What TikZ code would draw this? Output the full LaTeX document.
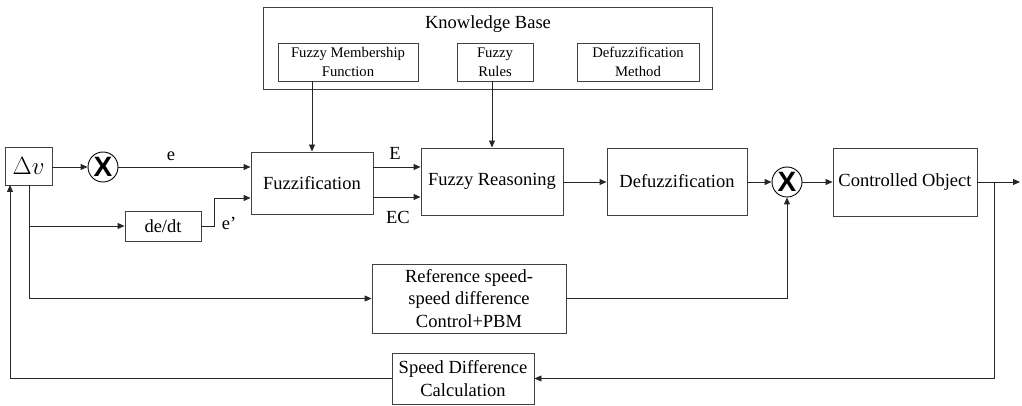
\documentclass[tikz,border=0pt]{standalone}
\usepackage{fontspec}
\setmainfont{Liberation Serif}
\newfontfamily\xfont{Liberation Sans}
\usetikzlibrary{arrows.meta,calc}
\begin{document}
\begin{tikzpicture}[x=1pt,y=-1pt,
  box/.style={draw=black!75,line width=0.9pt,inner sep=0pt,align=center,font=\fontsize{18.5}{22.5}\selectfont},
  sbox/.style={draw=black!75,line width=0.9pt,inner sep=0pt,align=center,font=\fontsize{14.7}{19}\selectfont},
  mult/.style={draw=black,line width=0.9pt,circle,minimum size=30pt,inner sep=0pt,font=\xfont\bfseries\fontsize{28}{28}\selectfont},
  conn/.style={line width=0.9pt,draw=black!85},
  arr/.style={conn,-{Triangle[length=7pt,width=6pt]}},
  lbl/.style={font=\fontsize{18.5}{22}\selectfont,inner sep=0pt}]
\useasboundingbox (0,0) rectangle (1022,406);
% knowledge base
\node[box,minimum width=449pt,minimum height=82pt] (kb) at (487.5,48) {};
\node[lbl] (kbt) at (488,24) {Knowledge Base};
\node[sbox,minimum width=140pt,minimum height=38pt] (fmf) at (348,62) {Fuzzy Membership\\Function};
\node[sbox,minimum width=76pt,minimum height=38pt] (fr) at (495,62) {Fuzzy\\Rules};
\node[sbox,minimum width=122pt,minimum height=38pt] (dm) at (638,62) {Defuzzification\\Method};
% main chain
\node[box,minimum width=47pt,minimum height=38pt,font=\fontsize{27}{27}\selectfont] (dv) at (28.5,166) {$\Delta v$};
\node[mult] (c1) at (103,167) {X};
\node[box,minimum width=122pt,minimum height=62pt] (fz) at (312,183) {Fuzzification};
\node[box,minimum width=142pt,minimum height=67pt] (frs) at (492,181.5) {Fuzzy Reasoning};
\node[box,minimum width=140pt,minimum height=67pt] (dfz) at (677,181.5) {Defuzzification};
\node[mult] (c2) at (787,182) {X};
\node[box,minimum width=144pt,minimum height=68pt] (co) at (905,182) {Controlled Object};
\node[box,minimum width=76pt,minimum height=30pt] (dd) at (163,226) {de/dt};
\node[box,minimum width=194pt,minimum height=69pt] (ref) at (469,298.5) {Reference speed-\\speed difference\\Control+PBM};
\node[box,minimum width=142pt,minimum height=51pt] (sdc) at (463,378.5) {Speed Difference\\Calculation};
% labels
\node[lbl] (le) at (171,156) {e};
\node[lbl] (lep) at (229,223) {e’};
\node[lbl] (lE) at (395,153) {E};
\node[lbl] (lEC) at (398,217) {EC};
% coordinates
\coordinate (dvb) at (29,185);
\coordinate (p1) at (29,226);
\coordinate (p2) at (29,298.5);
\coordinate (q1) at (214,226);
\coordinate (q2) at (214,198);
\coordinate (out) at (1020,182);
\coordinate (br) at (994,182);
\coordinate (br2) at (994,378.5);
\coordinate (fb1) at (10,378.5);
\coordinate (fb2) at (10,185);
\coordinate (r1) at (787,298.5);
% connectors
\draw[arr] (dv.east |- c1.west) -- (c1.west);
\draw[arr] (c1.east) -- (c1.east -| fz.west);
\draw[conn] (dvb) -- (p2);
\draw[arr] (p1) -- (dd.west);
\draw[arr] (p2) -- (ref.west);
\draw[arr] (dd.east) -- (q1) -- (q2) -- (q2 -| fz.west);
\draw[arr] (fz.north |- fmf.south) -- (fz.north);
\draw[arr] (frs.north |- fr.south) -- (frs.north);
\draw[arr] (fz.east |- 0,167) -- (frs.west |- 0,167);
\draw[arr] (fz.east |- 0,197) -- (frs.west |- 0,197);
\draw[arr] (frs.east |- 0,182) -- (dfz.west |- 0,182);
\draw[arr] (dfz.east |- 0,182) -- (c2.west);
\draw[arr] (c2.east) -- (co.west |- c2.east);
\draw[arr] (co.east |- out) -- (out);
\draw[conn] (br) -- (br2);
\draw[arr] (br2) -- (sdc.east);
\draw[arr] (sdc.west) -- (fb1) -- (fb2);
\draw[arr] (ref.east) -- (r1) -- (c2.south);
\end{tikzpicture}
\end{document}
